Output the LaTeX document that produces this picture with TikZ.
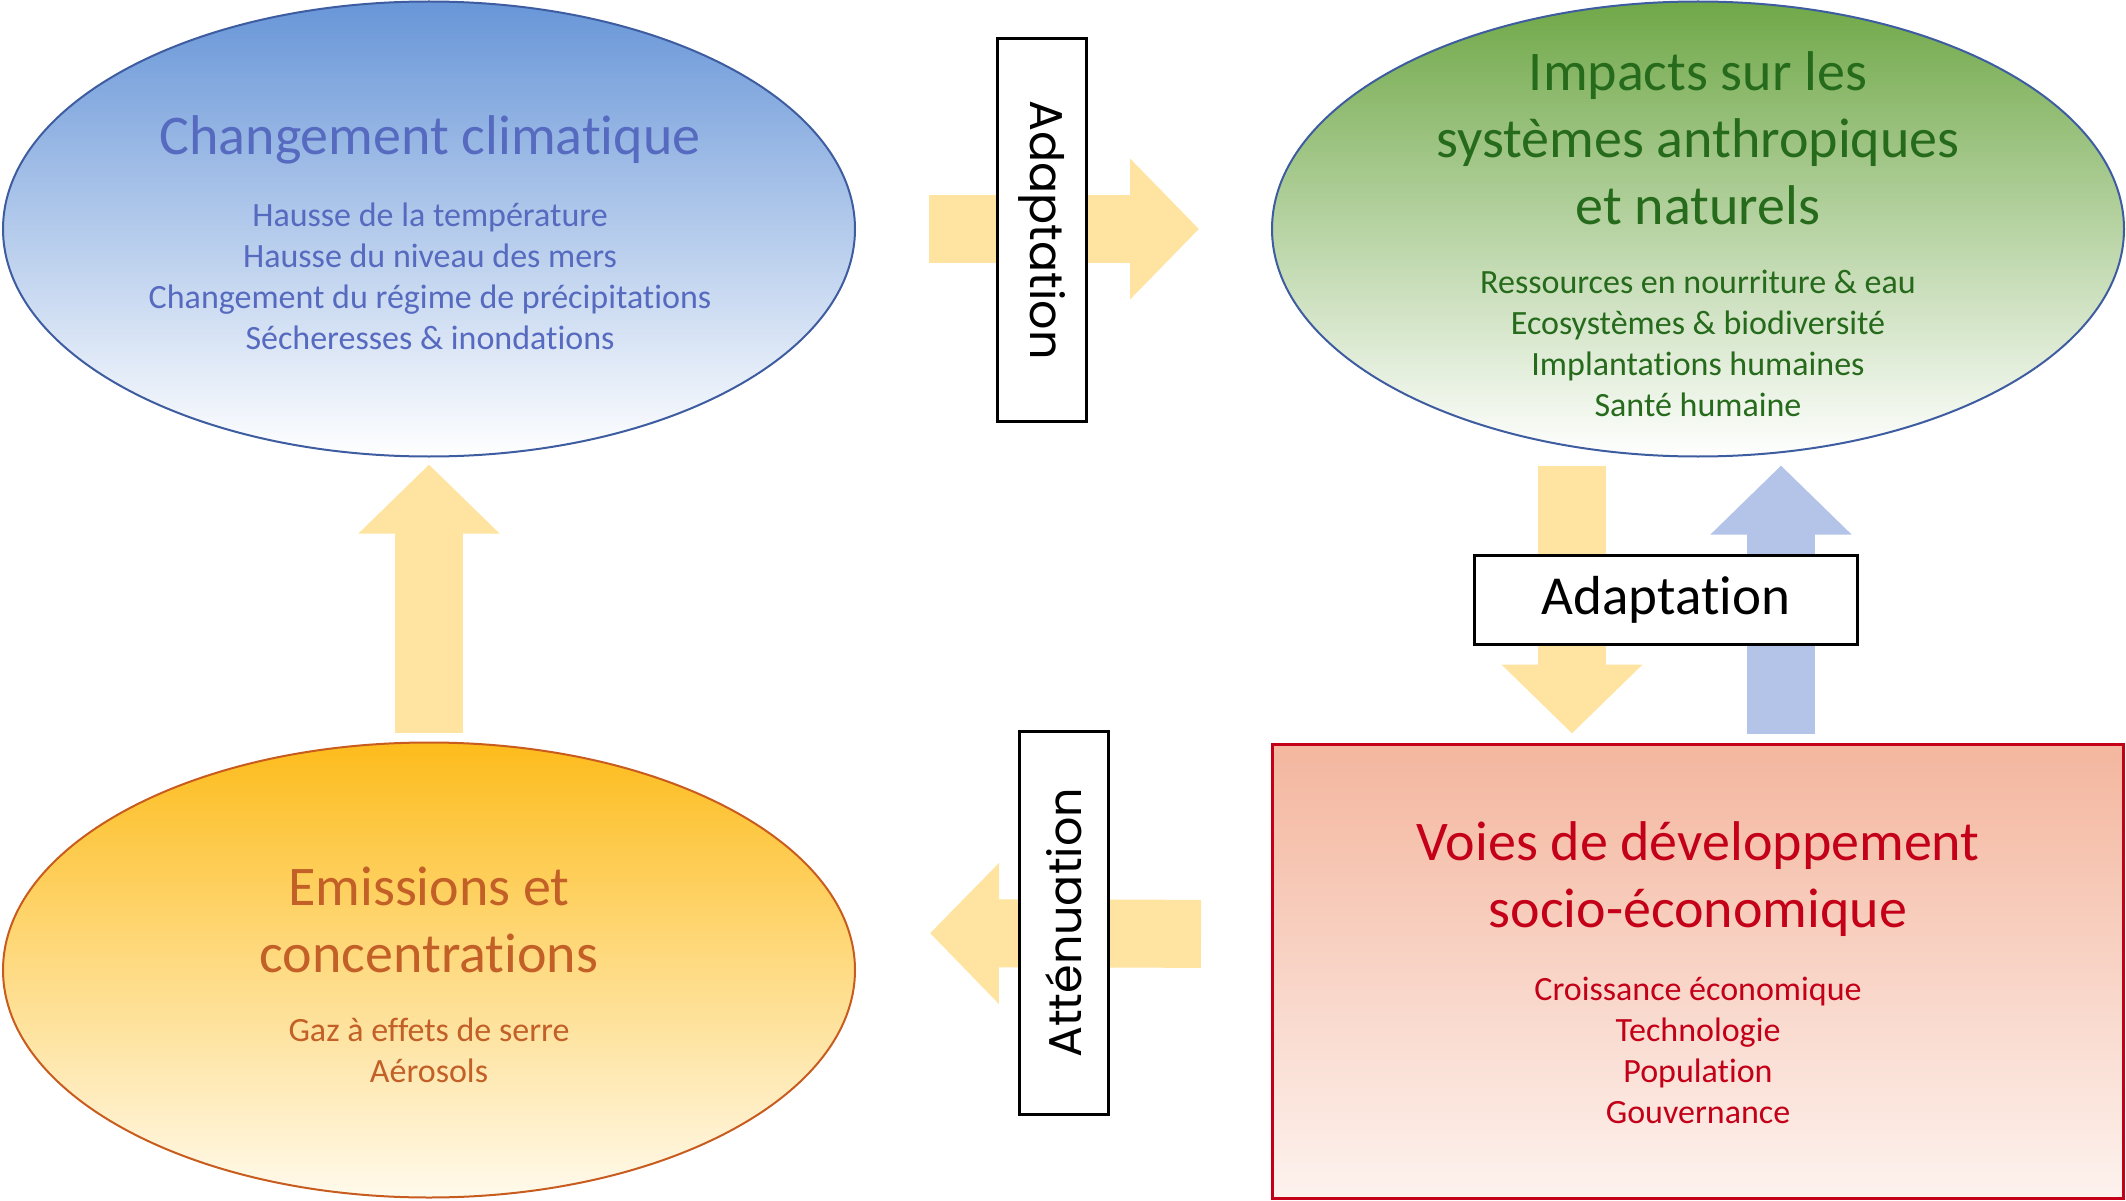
\documentclass[tikz,border=0pt]{standalone}
\usepackage{fontspec}
\setmainfont{Carlito}[Ligatures=NoCommon]
\newfontfamily\geofont{Poppins}
\usepackage{tikz}
\usetikzlibrary{arrows.meta,shapes,positioning}
\usepackage{xcolor}
\definecolor{ccblue}{RGB}{104,150,216}
\definecolor{ccbluetext}{RGB}{86,106,192}
\definecolor{ccblueline}{RGB}{62,92,160}
\definecolor{ccgreen}{RGB}{112,168,72}
\definecolor{ccgreentext}{RGB}{38,106,28}
\definecolor{ccorange}{RGB}{253,188,28}
\definecolor{ccorangelight}{RGB}{255,250,236}
\definecolor{ccorangeline}{RGB}{200,92,30}
\definecolor{ccorangetext}{RGB}{194,96,40}
\definecolor{ccsalmon}{RGB}{244,182,158}
\definecolor{ccsalmonlight}{RGB}{253,242,238}
\definecolor{ccred}{RGB}{196,0,24}
\definecolor{ccyellow}{RGB}{254,228,160}
\definecolor{cclightblue}{RGB}{180,196,232}
\tikzstyle{fatarrow} = [line width=68pt, -{Triangle[length=69pt,width=137pt]}, color=ccyellow]

\begin{document}
\begin{tikzpicture}[
    x=1pt, y=-1pt,
    bubble/.style={ellipse, minimum width=852pt, minimum height=455pt, inner sep=0pt, line width=2pt},
    title/.style={align=center, font=\fontsize{56}{67}\selectfont},
    items/.style={align=center, font=\fontsize{34}{41}\selectfont},
    tag/.style={rectangle, draw=black, line width=3pt, fill=white, inner sep=0pt, minimum width=383pt, minimum height=89pt},
    vtag/.style={tag, font=\geofont\fontsize{46}{50}\selectfont}
]
\useasboundingbox (0,0) rectangle (2126,1201);

% Shapes
\node[bubble, draw=ccblueline, top color=ccblue, bottom color=white] (climat) at (429,229) {};
\node[bubble, draw=ccblueline, top color=ccgreen, bottom color=white] (impacts) at (1698,229) {};
\node[bubble, draw=ccorangeline, top color=ccorange, bottom color=ccorangelight] (emis) at (429,970) {};
\node[rectangle, draw=ccred, line width=3pt, minimum width=851pt, minimum height=454pt, top color=ccsalmon, bottom color=ccsalmonlight] (voies) at (1698,971) {};

% Texts
\node[title, text=ccbluetext] (climat-title) at (430,140) {Changement climatique};
\node[items, text=ccbluetext] (climat-list) at (430,276) {Hausse de la température\\Hausse du niveau des mers\\Changement du régime de précipitations\\Sécheresses \& inondations};

\node[title, text=ccgreentext] (impacts-title) at (1698,138) {Impacts sur les\\systèmes anthropiques\\et naturels};
\node[items, text=ccgreentext] (impacts-list) at (1698,343) {Ressources en nourriture \& eau\\Ecosystèmes \& biodiversité\\Implantations humaines\\Santé humaine};

\node[title, text=ccorangetext] (emis-title) at (429,920) {Emissions et\\concentrations};
\node[items, text=ccorangetext] (emis-list) at (429,1050) {Gaz à effets de serre\\Aérosols};

\node[title, text=ccred] (voies-title) at (1698,879) {Voies de développement\\socio-économique};
\node[items, text=ccred] (voies-list) at (1698,1050) {Croissance économique\\Technologie\\Population\\Gouvernance};

% Arrows
\draw[fatarrow, shorten <=9pt, shorten >=7pt] (emis.north) -- (climat.south);
\draw[fatarrow, shorten <=73pt, shorten >=72pt] (climat.east) -- (impacts.west);
\draw[fatarrow, shorten <=8pt, shorten >=9pt] ([xshift=-126pt]impacts.south) -- ([xshift=-126pt]voies.north);
\draw[fatarrow, cclightblue, shorten <=9pt, shorten >=8pt] ([xshift=83pt]voies.north) -- ([xshift=83pt]impacts.south);
\draw[fatarrow, shorten <=70pt, shorten >=74pt] ([yshift=37pt]voies.west) -- ([yshift=37pt]emis.east);

% Labels
\node[vtag, rotate=-90] (adapt-top) at (1042,230) {Adaptation};
\node[tag, font=\fontsize{55}{60}\selectfont] (adapt-mid) at (1666,600) {Adaptation};
\node[vtag, rotate=90] (attenuation) at (1064,923) {Atténuation};

\end{tikzpicture}
\end{document}
